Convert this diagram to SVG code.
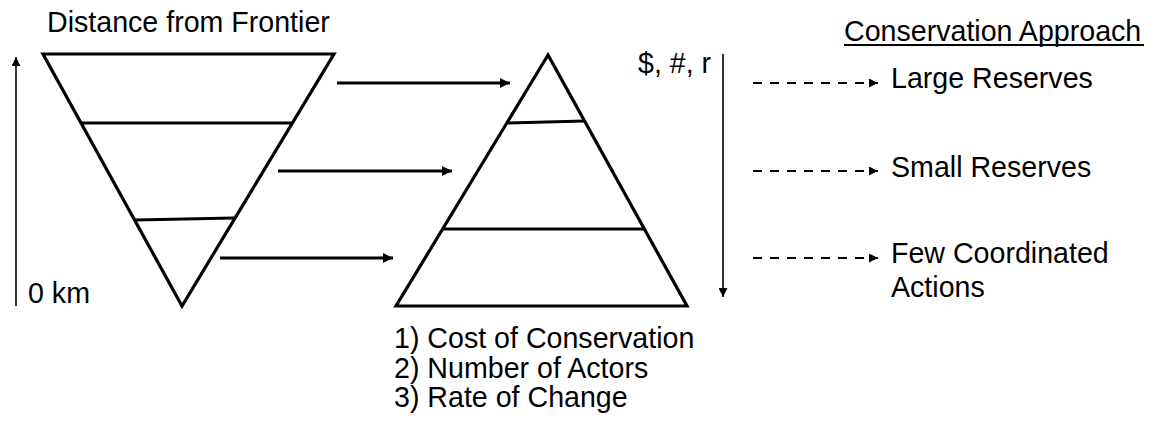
<svg xmlns="http://www.w3.org/2000/svg" width="1155" height="421" viewBox="0 0 1155 421">
<defs>
<style>
text{font-family:"Liberation Sans",Arial,sans-serif;font-size:28.6px;fill:#000}
.tri{fill:none;stroke:#000;stroke-width:3.2;stroke-linejoin:miter}
.band{stroke:#000;stroke-width:3}
.arr{stroke:#000;stroke-width:2.8;fill:none}
.thin{stroke:#000;stroke-width:1.6;fill:none}
.dash{stroke:#000;stroke-width:2;fill:none;stroke-dasharray:9 8}
</style>
<marker id="ah" viewBox="0 0 10 10" refX="10" refY="5" markerWidth="10" markerHeight="10" markerUnits="userSpaceOnUse" orient="auto"><path d="M0,0 L10,5 L0,10 Z" fill="#000"/></marker>
<marker id="ahs" viewBox="0 0 10 10" refX="10" refY="5" markerWidth="9" markerHeight="9" markerUnits="userSpaceOnUse" orient="auto"><path d="M0,0 L10,5 L0,10 Z" fill="#000"/></marker>
</defs>
<g id="title-left"><text x="47" y="32">Distance from Frontier</text></g>
<g id="distance-axis"><line class="thin" x1="16" y1="306" x2="16" y2="57" marker-end="url(#ahs)"/><text x="28" y="303">0 km</text></g>
<g id="inverted-triangle">
<polygon class="tri" points="43,54 334,54 182,306"/>
<line class="band" x1="82" y1="123" x2="293" y2="123"/>
<line class="band" x1="135" y1="220" x2="234" y2="218"/>
</g>
<g id="pyramid">
<polygon class="tri" points="548,55 396,306 687,306"/>
<line class="band" x1="508" y1="123" x2="585" y2="121"/>
<line class="band" x1="443" y1="229" x2="644" y2="229"/>
</g>
<g id="connectors">
<line class="arr" x1="337" y1="83" x2="510" y2="83" marker-end="url(#ah)"/>
<line class="arr" x1="278" y1="171" x2="452" y2="171" marker-end="url(#ah)"/>
<line class="arr" x1="220" y1="258" x2="393" y2="258" marker-end="url(#ah)"/>
<line class="dash" x1="753" y1="83" x2="878" y2="83" marker-end="url(#ahs)"/>
<line class="dash" x1="753" y1="171" x2="878" y2="171" marker-end="url(#ahs)"/>
<line class="dash" x1="753" y1="258" x2="878" y2="258" marker-end="url(#ahs)"/>
</g>
<g id="cost-axis"><text x="638" y="73">$, #, r</text><line class="thin" x1="723" y1="54" x2="723" y2="297" marker-end="url(#ahs)"/></g>
<g id="title-right"><text x="844" y="41">Conservation Approach</text><line x1="844" y1="45" x2="1144" y2="45" stroke="#000" stroke-width="2"/></g>
<g id="large-reserves"><text x="891" y="88">Large Reserves</text></g>
<g id="small-reserves"><text x="891" y="177">Small Reserves</text></g>
<g id="few-actions"><text x="891" y="263">Few Coordinated</text><text x="891" y="297">Actions</text></g>
<g id="legend">
<text x="394" y="348">1) Cost of Conservation</text>
<text x="394" y="378">2) Number of Actors</text>
<text x="394" y="407">3) Rate of Change</text>
</g>
</svg>
